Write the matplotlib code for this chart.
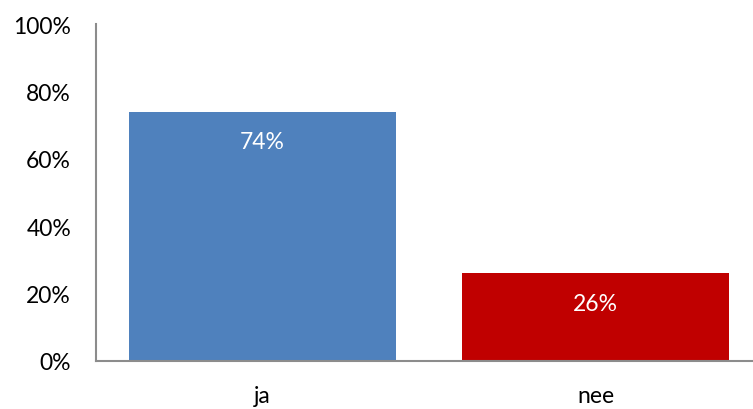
import matplotlib.pyplot as plt

categories = ['ja', 'nee']
values = [74, 26]
bar_colors = ['#4F81BD', '#C00000']

plt.rcParams['font.family'] = ['Lato', 'DejaVu Sans']

fig = plt.figure(figsize=(7.53, 4.10), dpi=100)
ax = fig.add_axes([96 / 753, 48 / 410, 666 / 753, 337 / 410])

x = range(len(categories))
bars = ax.bar(x, values, width=0.8, color=bar_colors)

for bar, v in zip(bars, values):
    ax.annotate(f'{v}%', xy=(bar.get_x() + bar.get_width() / 2, v),
                xytext=(0, -30), textcoords='offset pixels',
                ha='center', va='center', color='white', fontsize=16.5)

ax.set_xlim(-0.5, 1.5)
ax.set_ylim(0, 100)
ax.set_yticks(range(0, 101, 20))
ax.set_yticklabels([f'{t}%' for t in range(0, 101, 20)])
ax.set_xticks(list(x))
ax.set_xticklabels(categories)

ax.tick_params(axis='y', length=0, pad=18, labelsize=16.5, colors='black')
ax.tick_params(axis='x', length=0, pad=17, labelsize=16.5, colors='black')

for side in ['top', 'right']:
    ax.spines[side].set_visible(False)
for side in ['left', 'bottom']:
    ax.spines[side].set_color('#8c8c8c')
    ax.spines[side].set_linewidth(1.5)

fig.savefig('out.png', dpi=100)
